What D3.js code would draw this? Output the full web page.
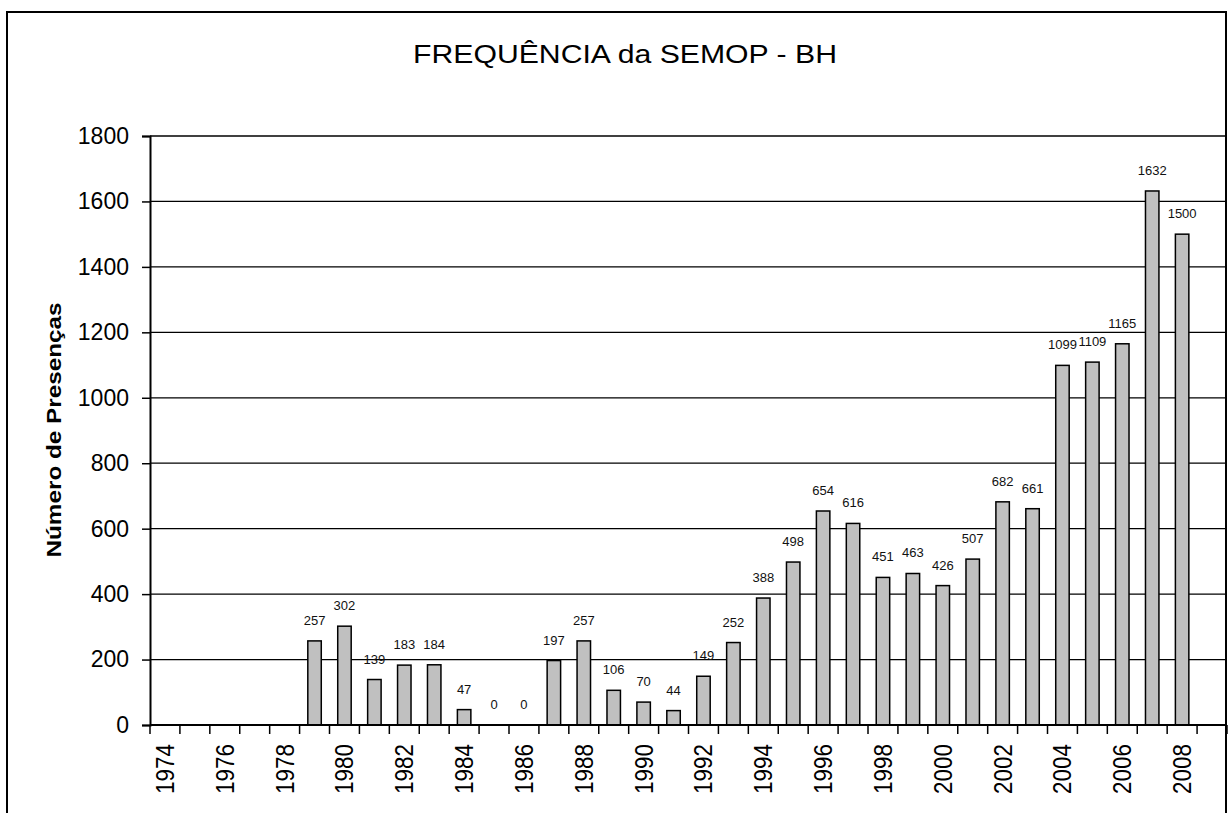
<!DOCTYPE html>
<html>
<head>
<meta charset="utf-8">
<script src="https://cdn.jsdelivr.net/npm/d3@7"></script>
<style>
  body { margin: 0; background: #fff; }
  text { font-family: "Liberation Sans", Arial, sans-serif; }
</style>
</head>
<body>
<svg id="chart" width="1232" height="813"></svg>
<script>
// anos 1974-2009 (2009 fica vazio no grafico original)
var years = d3.range(1974, 2010)
var presencas = [null, null, null, null, null, 257, 302, 139, 183, 184, 47, 0, 0, 197, 257, 106, 70, 44, 149, 252,
  388, 498, 654, 616, 451, 463, 426, 507, 682, 661, 1099, 1109, 1165, 1632, 1500, null]
var yTicks = [0, 200, 400, 600, 800, 1000, 1200, 1400, 1600, 1800]

var data = years.map((y, i) => ({year: y, value: presencas[i]}))

var margin = {top: 136, right: 5, bottom: 88, left: 150}
var svg = d3.select("#chart")

// moldura
svg.append("rect")
    .attr("x", 7).attr("y", 12)
    .attr("width", 1219).attr("height", 830)
    .attr("fill", "none").attr("stroke", "black").attr("stroke-width", 2)

var x = d3.scaleBand()
    .domain(years)
    .range([margin.left, 1227])
    .paddingInner(0.55).paddingOuter(0.275)

var y = d3.scaleLinear()
    .domain([0, 1800])
    .range([725, margin.top])

// linhas de grade
svg.append("g")
    .selectAll("line")
    .data(yTicks.filter(d => d > 0))
    .join("line")
    .attr("x1", margin.left).attr("x2", 1227)
    .attr("y1", d => y(d)).attr("y2", d => y(d))
    .attr("stroke", "black").attr("stroke-width", 1.3)

// eixo y
var yAxis = svg.append("g")
    .attr("transform", `translate(${margin.left},0)`)
    .call(d3.axisLeft(y).tickValues(yTicks).tickSize(8).tickPadding(13).tickFormat(d3.format("d")))
yAxis.select(".domain").attr("stroke-width", 2)
yAxis.selectAll(".tick line").attr("stroke-width", 1.5)
yAxis.selectAll("text").attr("font-size", 23).attr("fill", "black")
    .style("font-family", '"Liberation Sans", Arial, sans-serif')

// borda direita da area
svg.append("line")
    .attr("x1", 1226).attr("x2", 1226)
    .attr("y1", margin.top).attr("y2", 725)
    .attr("stroke", "black").attr("stroke-width", 2)

// eixo x: marcas entre categorias
var step = x.step()
svg.append("g")
    .selectAll("line")
    .data(years.concat([2010]))
    .join("line")
    .attr("x1", d => margin.left + (d - 1974) * step)
    .attr("x2", d => margin.left + (d - 1974) * step)
    .attr("y1", 725).attr("y2", 734)
    .attr("stroke", "black").attr("stroke-width", 1.5)

svg.append("g")
    .selectAll("text")
    .data(years.filter(d => d % 2 === 0))
    .join("text")
    .attr("transform", d => `translate(${x(d) + x.bandwidth() / 2 + 9},744) rotate(-90)`)
    .attr("text-anchor", "end")
    .attr("font-size", 25)
    .attr("textLength", 50)
    .attr("lengthAdjust", "spacingAndGlyphs")
    .text(d => d)

// barras
var bars = data.filter(d => d.value !== null)
svg.append("g")
    .selectAll("rect")
    .data(bars)
    .join("rect")
    .attr("x", d => x(d.year))
    .attr("y", d => y(d.value))
    .attr("width", x.bandwidth())
    .attr("height", d => y(0) - y(d.value))
    .attr("fill", "#c0c0c0")
    .attr("stroke", "black")
    .attr("stroke-width", 1.5)

// rotulos
svg.append("g")
    .selectAll("text")
    .data(bars)
    .join("text")
    .attr("x", d => x(d.year) + x.bandwidth() / 2)
    .attr("y", d => y(d.value) - 16)
    .attr("text-anchor", "middle")
    .attr("font-size", 13)
    .attr("fill", "#111")
    .text(d => d.value)

// linha do zero
svg.append("line")
    .attr("x1", margin.left).attr("x2", 1227)
    .attr("y1", 725).attr("y2", 725)
    .attr("stroke", "black").attr("stroke-width", 2)

// titulo
svg.append("text")
    .attr("x", 625).attr("y", 63)
    .attr("text-anchor", "middle")
    .attr("font-size", 26)
    .attr("textLength", 424)
    .attr("lengthAdjust", "spacingAndGlyphs")
    .text("FREQUÊNCIA da SEMOP - BH")

svg.append("text")
    .attr("transform", "translate(61,430) rotate(-90)")
    .attr("text-anchor", "middle")
    .attr("font-size", 21)
    .attr("font-weight", "bold")
    .attr("textLength", 255)
    .attr("lengthAdjust", "spacingAndGlyphs")
    .text("Número de Presenças")
</script>
</body>
</html>
